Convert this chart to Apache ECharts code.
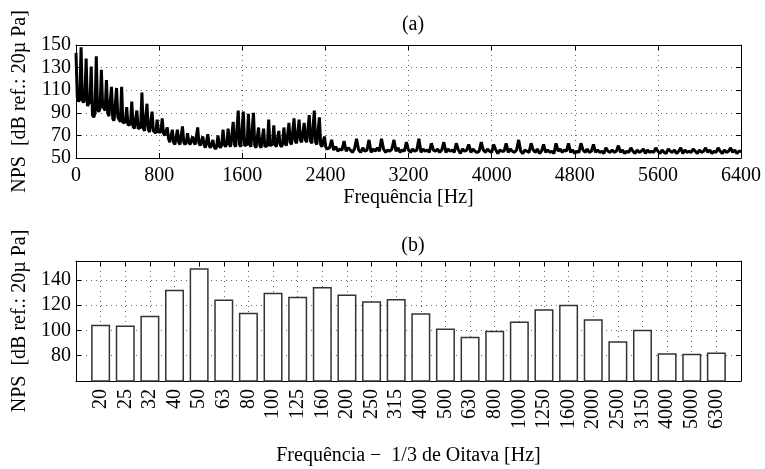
<!DOCTYPE html>
<html>
<head>
<meta charset="utf-8">
<script src="https://cdn.jsdelivr.net/npm/echarts@6/dist/echarts.min.js"></script>
<style>
  html, body { margin: 0; padding: 0; background: #fff; }
  #chart-container { width: 765px; height: 469px; }
</style>
</head>
<body>
<div id="chart-container"></div>
<script>
var dom = document.getElementById('chart-container');
var myChart = echarts.init(dom, null, { renderer: 'canvas' });

// (a) narrow band spectrum
// 0 .. ~2430 Hz, one sample every 12.2 Hz (harmonics about every 48.8 Hz)
const lowStep = 12.2;
const lowBand = [
  143,104,100,102,
  148,101,99,103,
  138,96,98,100,
  131,88,86,90,
  140,93,91,94,
  128,96,94,92,
  119,90,87,86,
  113,85,83,84,
  112,86,84,82,
  113,81,80,82,
  95,79,78,80,
  100,78,76,77,
  92,76,75,77,
  108,77,74,75,
  98,75,73,74,
  91,74,73,72,
  84,73,72,73,
  85,72,70,71,
  77,67,64,65,
  75,64,62,63,
  75,64,62,63,
  78,64,62,64,
  72,64,62,63,
  69,64,62,63,
  77,63,61,62,
  69,62,59,60,
  71,61,59,60,
  66,60,58,60,
  70,61,59,62,
  75,62,60,63,
  76,62,60,61,
  82,62,60,61,
  92,62,60,61,
  91,61,60,62,
  89,62,60,61,
  90,61,59,60,
  77,61,59,60,
  76,60,59,61,
  84,61,60,62,
  79,62,60,61,
  74,62,60,62,
  77,63,61,62,
  81,64,62,63,
  85,65,63,64,
  84,66,64,65,
  81,66,64,65,
  88,65,63,64,
  92,64,62,63,
  86,62,60,61,
  69,60,58,59
];
// 2440 .. 6400 Hz, one sample every 20 Hz
const highStart = 2440;
const highStep = 20;
const highBand = [
  59,66,57,60,56,58,
  57,65,56,59,57,55,
  58,67,57,55,59,56,
  57,66,55,58,56,59,
  56,67,58,55,57,56,
  58,66,56,59,55,57,
  56,64,57,55,58,56,
  57,67,55,58,56,57,
  55,63,57,56,58,55,
  57,64,55,58,56,57,
  55,63,57,54,58,56,
  57,62,55,58,56,55,
  56,64,57,55,58,56,
  55,62,57,54,57,56,
  56,63,55,58,56,55,
  57,66,56,54,57,56,
  55,63,57,55,58,54,
  56,62,55,57,55,56,
  54,63,56,58,55,57,
  56,63,55,57,54,56,
  55,63,57,55,58,55,
  56,62,55,57,55,56,
  54,59,56,55,57,55,
  56,61,55,57,54,56,
  55,59,56,54,57,55,
  56,58,54,57,55,56,
  55,59,56,54,57,55,
  54,58,56,55,57,54,
  56,59,54,57,55,56,
  55,58,56,54,57,55,
  56,59,55,57,54,56,
  55,59,56,54,57,55,
  56,59,55,57,54,56,
  56
];

// (b) 1/3 octave bands
const bandLabels = ['20','25','32','40','50','63','80','100','125','160','200','250','315',
  '400','500','630','800','1000','1250','1600','2000','2500','3150','4000','5000','6300'];
const bandLevels = [104.5,104,111.6,132.2,149.3,124.5,114,129.8,126.6,134.5,128.4,123.2,125,
  113.7,101.6,95,99.8,107.1,116.8,120.3,108.9,91.5,100.5,82,81.6,82.6];

let spectrum = [];
lowBand.forEach(function (v, i) { spectrum.push([i * lowStep, v]); });
highBand.forEach(function (v, j) { spectrum.push([highStart + j * highStep, v]); });

let bars = bandLevels.map(function (v, i) { return [i + 1, v]; });

const font = 'Liberation Serif';
const txt = { fontFamily: font, fontSize: 20, color: '#000' };
const dotted = { show: true, lineStyle: { color: '#666', width: 1, type: [1, 4] } };
const boxLine = { show: true, onZero: false, lineStyle: { color: '#000', width: 1 } };
const tickIn = { show: true, inside: true, length: 5, lineStyle: { color: '#000' } };
const plain = function (v) { return String(v); };

function mirror(base, pos) {
  return Object.assign({}, base, {
    position: pos,
    name: '',
    axisLabel: { show: false },
    splitLine: { show: false }
  });
}

const xA = {
  type: 'value', gridIndex: 0, min: 0, max: 6400, interval: 800,
  axisLine: boxLine, axisTick: tickIn, splitLine: dotted,
  axisLabel: Object.assign({ margin: 8, formatter: plain }, txt),
  name: 'Frequência [Hz]', nameLocation: 'middle', nameGap: 30, nameTextStyle: txt
};
const yA = {
  type: 'value', gridIndex: 0, min: 50, max: 150, interval: 20,
  axisLine: boxLine, axisTick: tickIn, splitLine: dotted,
  axisLabel: Object.assign({ margin: 5, formatter: plain }, txt),
  name: 'NPS  [dB ref.: 20µ Pa]', nameLocation: 'middle', nameGap: 46, nameTextStyle: txt
};
const xB = {
  type: 'value', gridIndex: 1, min: 0, max: 27, interval: 1,
  axisLine: boxLine, axisTick: tickIn, splitLine: dotted,
  axisLabel: Object.assign({
    margin: 8, rotate: 90,
    formatter: function (v) { return bandLabels[v - 1] || ''; }
  }, txt),
  name: 'Frequência −  1/3 de Oitava [Hz]', nameLocation: 'middle', nameGap: 65, nameTextStyle: txt
};
const yB = {
  type: 'value', gridIndex: 1, min: 60, max: 155, interval: 20,
  axisLine: boxLine, axisTick: tickIn, splitLine: dotted,
  axisLabel: Object.assign({ margin: 5, showMinLabel: false, showMaxLabel: false, formatter: plain }, txt),
  name: 'NPS  [dB ref.: 20µ Pa]', nameLocation: 'middle', nameGap: 46, nameTextStyle: txt
};

var option = {
  animation: false,
  backgroundColor: '#fff',
  title: [
    { text: '(a)', left: 408, top: 10, textAlign: 'center', textStyle: { fontFamily: font, fontSize: 20, fontWeight: 'normal', color: '#000' } },
    { text: '(b)', left: 408, top: 231, textAlign: 'center', textStyle: { fontFamily: font, fontSize: 20, fontWeight: 'normal', color: '#000' } }
  ],
  grid: [
    { left: 76, right: 24, top: 45, height: 113 },
    { left: 76, right: 24, top: 261, height: 120 }
  ],
  xAxis: [xA, mirror(xA, 'top'), xB, mirror(xB, 'top')],
  yAxis: [yA, mirror(yA, 'right'), yB, mirror(yB, 'right')],
  series: [
    {
      type: 'line', xAxisIndex: 0, yAxisIndex: 0,
      data: spectrum, symbol: 'none',
      lineStyle: { color: '#000', width: 3 }
    },
    {
      type: 'bar', xAxisIndex: 2, yAxisIndex: 2,
      data: bars, barWidth: 19,
      itemStyle: { color: '#fff', borderColor: '#333', borderWidth: 1.5 }
    }
  ]
};

myChart.setOption(option);
window.addEventListener('resize', myChart.resize);
</script>
</body>
</html>
